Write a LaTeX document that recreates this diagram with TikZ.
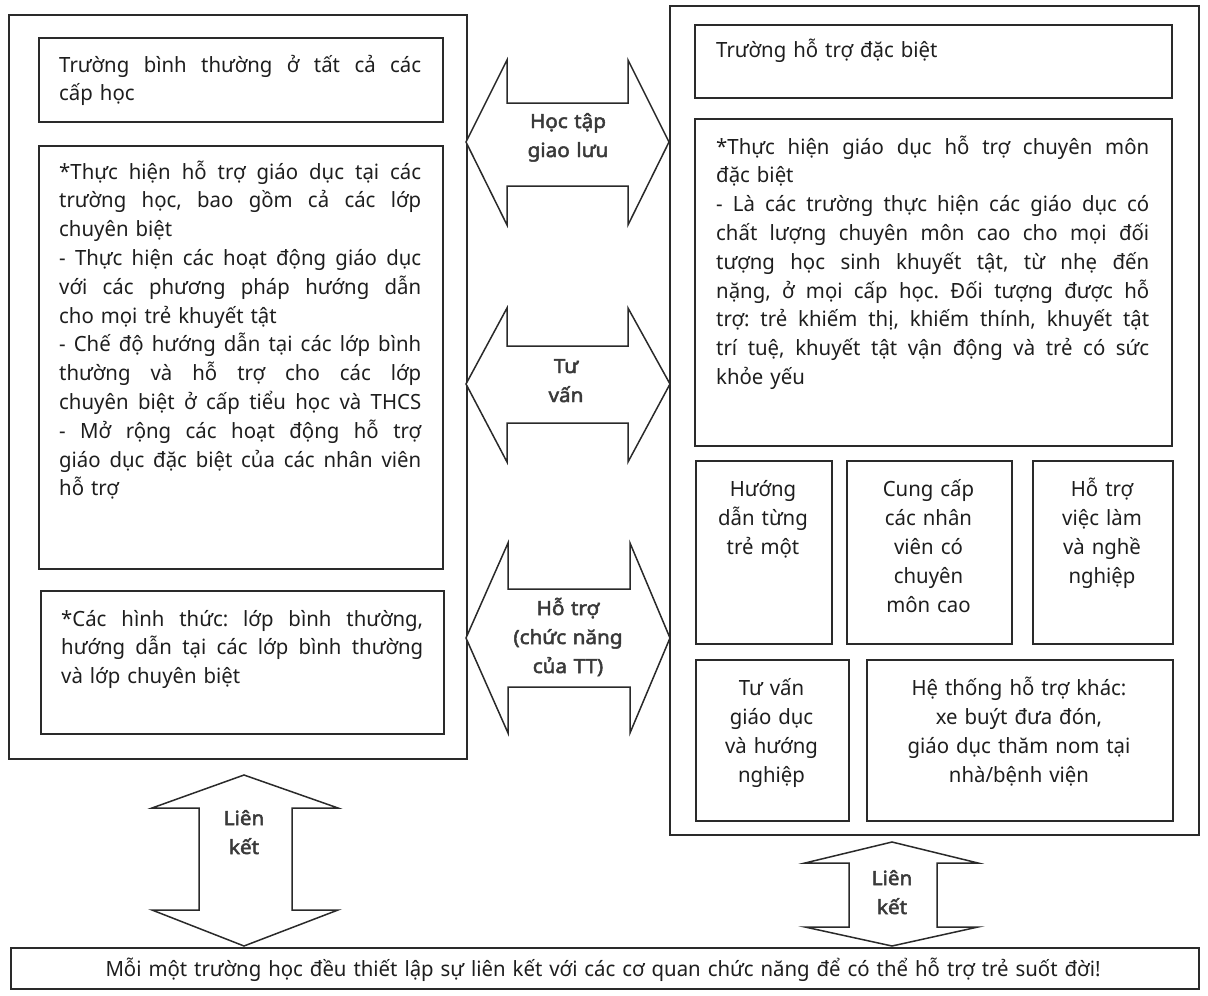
\documentclass[tikz,border=0pt]{standalone}
\usepackage{fontspec}
\setmainfont{Noto Sans}[FakeStretch=0.97]
\newfontfamily\labfont{Noto Sans}[FakeStretch=1.06, FakeBold=2.5]
\usetikzlibrary{calc}
\definecolor{linec}{HTML}{2A2A2A}
\definecolor{textc}{HTML}{1E1E1E}
\definecolor{labc}{HTML}{3A3A3A}
\newcommand\jlL[1]{\makebox[362pt][s]{\spaceskip=0pt\xspaceskip=0pt #1}}
\newcommand\jlR[1]{\makebox[433pt][s]{\spaceskip=0pt\xspaceskip=0pt #1}}
\frenchspacing
\tikzset{
  boxst/.style={draw=linec, line width=1.5pt, anchor=north west, inner sep=0pt},
  txt/.style={anchor=base west, inner sep=0pt, text width=#1, align=left,
    font=\frenchspacing\fontsize{21}{28.8}\selectfont, text=textc},
  ctxt/.style={anchor=base, inner sep=0pt, text width=#1, align=center,
    font=\fontsize{21}{29}\selectfont, text=textc},
  barrow/.style={draw=linec, line width=1.5pt, fill=white, line join=miter},
  lab/.style={anchor=base, inner sep=0pt, text width=150, align=center,
    font=\labfont\fontsize{19.5}{29}\selectfont, text=labc}
}
\begin{document}
\begin{tikzpicture}[x=1pt,y=-1pt]
\useasboundingbox (0,0) rectangle (1208,996);
% ---------- left column ----------
\node[boxst, minimum width=458, minimum height=744] (LO) at (8,14) {};
\node[boxst, minimum width=404, minimum height=84] (L1) at (38,37) {};
\node[boxst, minimum width=404, minimum height=423] (L2) at (38,145) {};
\node[boxst, minimum width=403, minimum height=143] (L3) at (40,590) {};
\node[txt=362] (L1t) at (59,72) {\jlL{Trường bình thường ở tất cả các}\\cấp học};
\node[txt=362] (L2t) at (59,179) {%
\jlL{*Thực hiện hỗ trợ giáo dục tại các}\\
\jlL{trường học, bao gồm cả các lớp}\\
chuyên biệt\\
\jlL{- Thực hiện các hoạt động giáo dục}\\
\jlL{với các phương pháp hướng dẫn}\\
cho mọi trẻ khuyết tật\\
\jlL{- Chế độ hướng dẫn tại các lớp bình}\\
\jlL{thường và hỗ trợ cho các lớp}\\
\jlL{chuyên biệt ở cấp tiểu học và THCS}\\
\jlL{- Mở rộng các hoạt động hỗ trợ}\\
\jlL{giáo dục đặc biệt của các nhân viên}\\
hỗ trợ};
\node[txt=362] (L3t) at (61,626) {%
\jlL{*Các hình thức: lớp bình thường,}\\
\jlL{hướng dẫn tại các lớp bình thường}\\
và lớp chuyên biệt};
% ---------- right column ----------
\node[boxst, minimum width=529, minimum height=829] (RO) at (669,5) {};
\node[boxst, minimum width=477, minimum height=73] (R1) at (694,24) {};
\node[boxst, minimum width=477, minimum height=327] (R2) at (694,118) {};
\node[txt=434] (R1t) at (716,57) {Trường hỗ trợ đặc biệt};
\node[txt=434] (R2t) at (716,154) {%
\jlR{*Thực hiện giáo dục hỗ trợ chuyên môn}\\
đặc biệt\\
\jlR{- Là các trường thực hiện các giáo dục có}\\
\jlR{chất lượng chuyên môn cao cho mọi đối}\\
\jlR{tượng học sinh khuyết tật, từ nhẹ đến}\\
\jlR{nặng, ở mọi cấp học. Đối tượng được hỗ}\\
\jlR{trợ: trẻ khiếm thị, khiếm thính, khuyết tật}\\
\jlR{trí tuệ, khuyết tật vận động và trẻ có sức}\\
khỏe yếu};
\node[boxst, minimum width=136, minimum height=183] (S1) at (695,460) {};
\node[boxst, minimum width=165, minimum height=183] (S2) at (846,460) {};
\node[boxst, minimum width=140, minimum height=183] (S3) at (1032,460) {};
\node[boxst, minimum width=153, minimum height=161] (S4) at (695,659) {};
\node[boxst, minimum width=306, minimum height=161] (S5) at (866,659) {};
\node[ctxt=130] (S1t) at (763,496) {Hướng\\dẫn từng\\trẻ một};
\node[ctxt=160] (S2t) at (928.5,496) {Cung cấp\\các nhân\\viên có\\chuyên\\môn cao};
\node[ctxt=134] (S3t) at (1102,496) {Hỗ trợ\\việc làm\\và nghề\\nghiệp};
\node[ctxt=148] (S4t) at (771.5,695) {Tư vấn\\giáo dục\\và hướng\\nghiệp};
\node[ctxt=300] (S5t) at (1019,695) {Hệ thống hỗ trợ khác:\\xe buýt đưa đón,\\giáo dục thăm nom tại\\nhà/bệnh viện};
% ---------- bottom ----------
\node[boxst, minimum width=1188, minimum height=41] (B) at (10,947) {};
\node[anchor=base, inner sep=0pt, font=\fontsize{21}{26}\selectfont, text=textc] (Bt) at (603,976)
  {\makebox[995pt][s]{Mỗi một trường học đều thiết lập sự liên kết với các cơ quan chức năng để có thể hỗ trợ trẻ suốt đời!}};
% ---------- horizontal double arrows ----------
\draw[barrow] (466,142) -- (507,60) -- (507,103) -- (628,103) -- (628,60) -- (669,142)
  -- (628,225) -- (628,186) -- (507,186) -- (507,225) -- cycle;
\node[lab] (A1) at (568,128) {Học tập\\giao lưu};
\draw[barrow] (466,384) -- (507,308) -- (507,346) -- (628,346) -- (628,308) -- (670,384)
  -- (628,462) -- (628,423) -- (507,423) -- (507,462) -- cycle;
\node[lab] (A2) at (566,373) {Tư\\vấn};
\draw[barrow] (466,638) -- (508,543) -- (508,589) -- (630,589) -- (630,543) -- (670,638)
  -- (630,733) -- (630,687) -- (508,687) -- (508,733) -- cycle;
\node[lab] (A3) at (568,615) {Hỗ trợ\\(chức năng\\của TT)};
% ---------- vertical double arrows ----------
\draw[barrow] (244,775) -- (338,808) -- (292,808) -- (292,910) -- (338,910) -- (244,946)
  -- (152,910) -- (199,910) -- (199,808) -- (152,808) -- cycle;
\node[lab] (V1) at (244,825) {Liên\\kết};
\draw[barrow] (892,842) -- (978,863) -- (937,863) -- (937,927) -- (978,927) -- (892,946)
  -- (805,927) -- (849,927) -- (849,863) -- (805,863) -- cycle;
\node[lab] (V2) at (892,885) {Liên\\kết};
\end{tikzpicture}
\end{document}
